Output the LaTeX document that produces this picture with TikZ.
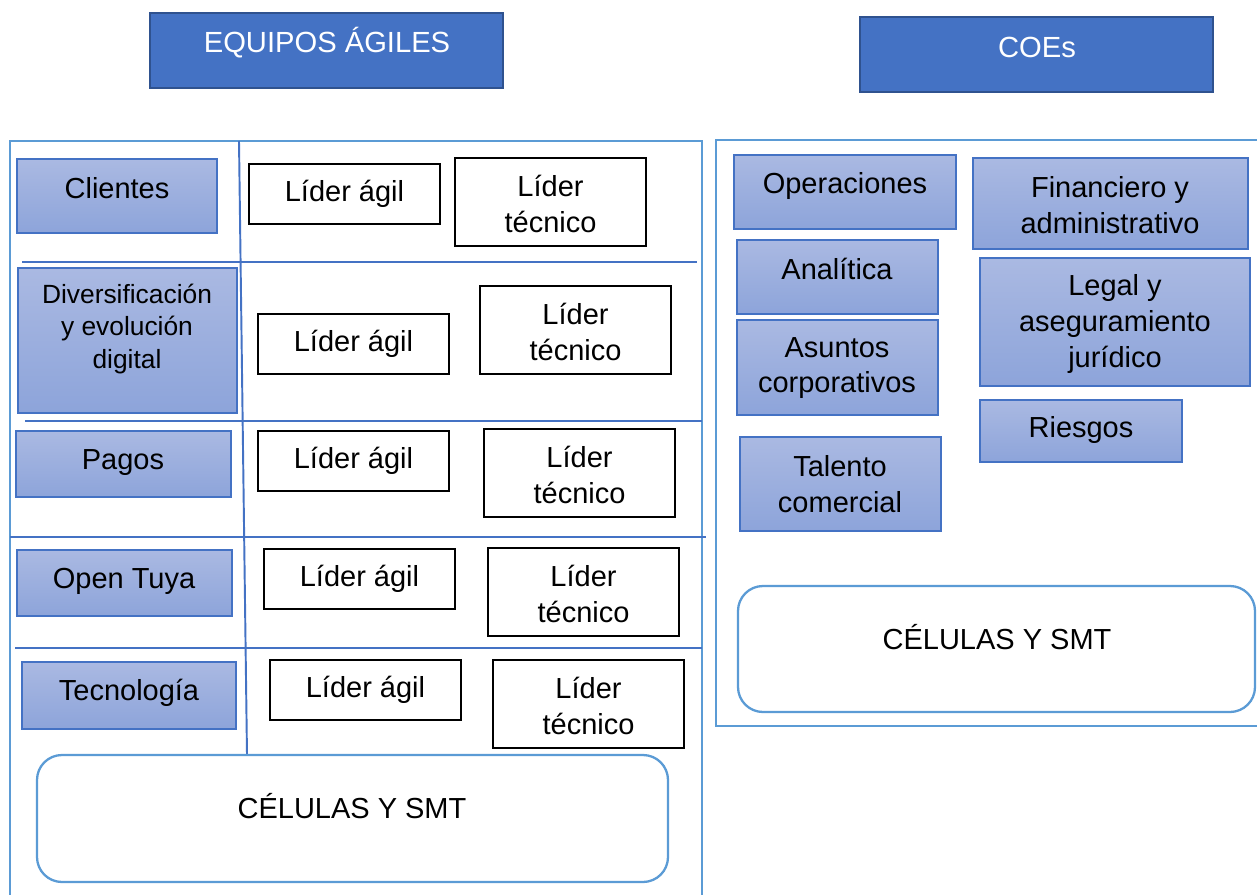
\documentclass[tikz,border=0pt]{standalone}
\usepackage{fontspec}
\setmainfont{Liberation Sans}
\usetikzlibrary{positioning}
\definecolor{hdrblue}{HTML}{4472C4}
\definecolor{hdrline}{HTML}{2F528F}
\definecolor{frameblue}{HTML}{5B9BD5}
\definecolor{boxtop}{HTML}{AAB9E2}
\definecolor{boxbot}{HTML}{8DA4DA}

\begin{document}
\begin{tikzpicture}[x=0.02cm, y=-0.02cm]
		\tikzset{
			header/.style={fill=hdrblue, draw=hdrline, line width=1.2pt},
			area/.style={draw=frameblue, line width=1.4pt},
			divider/.style={draw=hdrblue, line width=1.1pt},
			unitbox/.style={top color=boxtop, bottom color=boxbot, draw=hdrblue, line width=0.9pt},
			leader/.style={draw=black, line width=0.6pt, fill=white},
			cellbox/.style={draw=frameblue, line width=1.3pt, rounded corners=0.5cm},
			lbl/.style={align=center, inner sep=0pt, font=\fontsize{16.5}{20.4}\selectfont},
			hdrlbl/.style={lbl, text=white, font=\fontsize{16.6}{20}\selectfont},
		}
		\useasboundingbox (0,0) rectangle (1257,895);

		% headers
		\draw[header] (150,13) rectangle (503,88);
		\node[hdrlbl] (equipos) at (327,43) {EQUIPOS ÁGILES};
		\draw[header] (860,17) rectangle (1213,92);
		\node[hdrlbl] (coes) at (1037,47) {COEs};

		% frames
		\draw[area] (10,141) rectangle (702,905);
		\draw[area] (716,140) rectangle (1265,726);
		\draw[divider] (239,141) -- (247,755);
		\draw[divider] (22,262) -- (697,262);
		\draw[divider] (25,421) -- (702,421);
		\draw[divider] (10,537) -- (706,537);
		\draw[divider] (15,648) -- (702,648);

		% equipos
		\draw[unitbox] (17,159) rectangle (217,233);
		\node[lbl] (clientes) at (117,188) {Clientes};
		\draw[unitbox] (18,268) rectangle (237,413);
		\node[lbl, font=\fontsize{15}{18.7}\selectfont] (diversificacion) at (127,329) {Diversificación\\y evolución\\digital};
		\draw[unitbox] (16,431) rectangle (231,497);
		\node[lbl] (pagos) at (123,463) {Pagos};
		\draw[unitbox] (17,550) rectangle (232,616);
		\node[lbl] (opentuya) at (124,581) {Open Tuya};
		\draw[unitbox] (22,662) rectangle (236,729);
		\node[lbl] (tecnologia) at (129,693) {Tecnología};

		\foreach \i/\ax/\ay/\tx/\ty in {1/249/164/455/158, 2/258/314/480/286, 3/258/431/484/429, 4/264/549/488/548, 5/270/660/493/660}{
			\draw[leader] (\ax,\ay) rectangle ++(191,60);
			\node[lbl] (agil\i) at (\ax+95.5,\ay+30) {Líder ágil};
			\draw[leader] (\tx,\ty) rectangle ++(191,88);
			\node[lbl] (tecnico\i) at (\tx+95.5,\ty+46) {Líder\\técnico};
		}

		\draw[cellbox] (37,755) rectangle (668,882);
		\node[lbl] (celulasL) at (352,806) {CÉLULAS Y SMT};

		% coes
		\draw[unitbox] (734,155) rectangle (956,229);
		\node[lbl] (operaciones) at (845,186) {Operaciones};
		\draw[unitbox] (737,240) rectangle (938,314);
		\node[lbl] (analitica) at (837,269) {Analítica};
		\draw[unitbox] (737,320) rectangle (938,415);
		\node[lbl] (asuntos) at (837,368) {Asuntos\\corporativos};
		\draw[unitbox] (740,437) rectangle (941,531);
		\node[lbl] (talento) at (840,484) {Talento\\comercial};
		\draw[unitbox] (973,158) rectangle (1248,249);
		\node[lbl] (financiero) at (1110,205) {Financiero y\\administrativo};
		\draw[unitbox] (980,258) rectangle (1250,386);
		\node[lbl] (legal) at (1115,324) {Legal y\\aseguramiento\\jurídico};
		\draw[unitbox] (980,400) rectangle (1182,462);
		\node[lbl] (riesgos) at (1081,430) {Riesgos};

		\draw[cellbox] (738,586) rectangle (1255,712);
		\node[lbl] (celulasR) at (997,637) {CÉLULAS Y SMT};
	\end{tikzpicture}
\end{document}
